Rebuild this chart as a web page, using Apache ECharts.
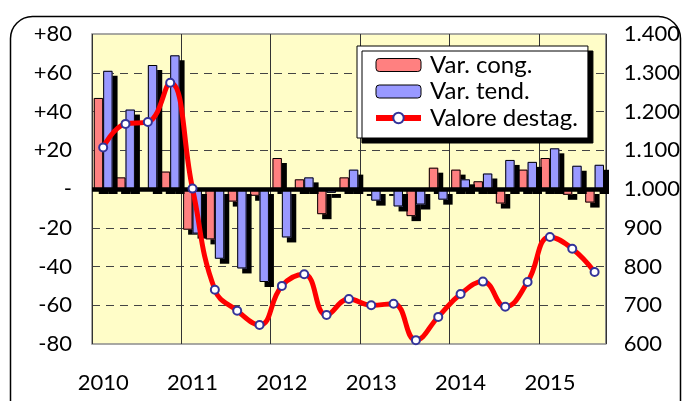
<!DOCTYPE html>
<html>
<head>
<meta charset="utf-8">
<script src="https://cdn.jsdelivr.net/npm/echarts@6/dist/echarts.min.js"></script>
<style>
  html, body { margin: 0; padding: 0; background: #fff; }
  #chart { width: 683px; height: 401px; }
</style>
</head>
<body>
<div id="chart"></div>
<script>
// trimestri 2010 I - 2015 III
const quarters = [
  '2010 I', '2010 II', '2010 III', '2010 IV',
  '2011 I', '2011 II', '2011 III', '2011 IV',
  '2012 I', '2012 II', '2012 III', '2012 IV',
  '2013 I', '2013 II', '2013 III', '2013 IV',
  '2014 I', '2014 II', '2014 III', '2014 IV',
  '2015 I', '2015 II', '2015 III'
];
// variazione congiunturale (%)
const varCong = [
  47, 6, 0, 9,
  -21, -26, -6.5, -3.5,
  16, 5, -13, 6,
  -1, -1, -14, 11,
  10, 4, -7.5, 10,
  16, -3, -7
];
// variazione tendenziale (%)
const varTend = [
  61, 41, 64, 69,
  -23, -36, -41, -48,
  -25, 6, -2, 10,
  -6, -9, -8, -5.5,
  5, 8, 15, 14,
  21, 12, 12.5
];
// valore destagionalizzato (asse destro)
const valoreDestag = [
  1107, 1168, 1173, 1274,
  1001, 740, 686, 649,
  750, 780, 675, 716,
  700, 704, 610, 670,
  729, 761, 696, 760,
  876, 846, 786
];

const FONT = 'Lato';

const myChart = echarts.init(document.getElementById('chart'));

// ombra nera sotto le barre (senza bordo, altrimenti l'ombra del bordo finisce dentro la barra)
const barShadow = {
  borderWidth: 0,
  shadowColor: '#000',
  shadowBlur: 0,
  shadowOffsetX: 5,
  shadowOffsetY: 5
};
// solo contorno, disegnato sopra su un secondo asse x nascosto
const barOutline = {
  color: 'rgba(0,0,0,0)',
  borderColor: '#000',
  borderWidth: 1
};

const option = {
  animation: false,
  graphic: [
    {
      type: 'rect',
      shape: { x: 10.5, y: 16.5, width: 670, height: 430, r: 22 },
      style: { fill: 'none', stroke: '#000', lineWidth: 1.5 },
      z: 0
    }
  ],
  grid: {
    left: 92,
    right: 76,
    top: 34,
    bottom: 57,
    show: true,
    backgroundColor: '#FFFDC8',
    borderColor: '#8c8c8c',
    borderWidth: 1.5
  },
  legend: {
    orient: 'vertical',
    left: 357,
    top: 46,
    padding: [7, 10, 8, 16],
    itemWidth: 45,
    itemHeight: 13,
    itemGap: 2.5,
    backgroundColor: '#fff',
    borderColor: '#000',
    borderWidth: 1,
    shadowColor: '#000',
    shadowBlur: 0,
    shadowOffsetX: 5,
    shadowOffsetY: 5,
    itemStyle: {
      borderColor: '#000',
      borderWidth: 1,
      shadowColor: 'rgba(0,0,0,0)',
      shadowOffsetX: 0,
      shadowOffsetY: 0
    },
    lineStyle: { width: 6 },
    textStyle: { fontFamily: FONT, fontSize: 24, lineHeight: 24, color: '#000', padding: [0, 0, 0, 4] },
    data: [
      'Var. cong.',
      'Var. tend.',
      { name: 'Valore destag.', itemStyle: { borderColor: '#333399', borderWidth: 2 } }
    ]
  },
  xAxis: [
    {
      type: 'category',
      data: quarters,
      boundaryGap: true,
      axisLine: { show: false },
      axisTick: { show: false },
      axisLabel: {
        interval: 3,
        margin: 28,
        fontFamily: FONT,
        fontSize: 22,
        color: '#000',
        formatter: v => v.slice(0, 4)
      },
      splitLine: {
        show: true,
        interval: 3,
        lineStyle: { color: '#333', width: 1 }
      }
    },
    {
      type: 'category',
      data: quarters,
      boundaryGap: true,
      show: false
    }
  ],
  yAxis: [
    {
      type: 'value',
      min: -80,
      max: 80,
      interval: 20,
      axisLine: { show: false },
      axisTick: { show: false },
      axisLabel: {
        margin: 20,
        fontFamily: FONT,
        fontSize: 22,
        color: '#000',
        padding: [8, 0, 0, 0],
        formatter: v => (v > 0 ? '+' + v : v === 0 ? '-' : String(v))
      },
      splitLine: {
        show: true,
        showMinLine: false,
        showMaxLine: false,
        lineStyle: { color: '#444', width: 1.2, type: [8, 6] }
      }
    },
    {
      type: 'value',
      min: 600,
      max: 1400,
      interval: 100,
      axisLine: { show: false },
      axisTick: { show: false },
      splitLine: { show: false },
      axisLabel: {
        margin: 18,
        fontFamily: FONT,
        fontSize: 22,
        color: '#000',
        padding: [8, 0, 0, 0],
        formatter: v => (v >= 1000 ? Math.floor(v / 1000) + '.' + String(v % 1000).padStart(3, '0') : String(v))
      }
    }
  ],
  series: [
    {
      name: 'Var. cong.',
      type: 'bar',
      data: varCong,
      barWidth: 9.4,
      barGap: '0%',
      itemStyle: Object.assign({ color: '#FF8080' }, barShadow)
    },
    {
      name: 'Var. tend.',
      type: 'bar',
      data: varTend,
      barWidth: 9.4,
      barGap: '0%',
      itemStyle: Object.assign({ color: '#9999FF' }, barShadow),
      markLine: {
        silent: true,
        symbol: 'none',
        z: 2.9,
        label: { show: false },
        lineStyle: { color: '#000', width: 4.5, type: 'solid' },
        data: [{ yAxis: 0 }]
      }
    },
    {
      name: 'cong-bordo',
      type: 'bar',
      xAxisIndex: 1,
      data: varCong,
      barWidth: 9.4,
      barGap: '0%',
      silent: true,
      itemStyle: barOutline
    },
    {
      name: 'tend-bordo',
      type: 'bar',
      xAxisIndex: 1,
      data: varTend,
      barWidth: 9.4,
      barGap: '0%',
      silent: true,
      itemStyle: barOutline
    },
    {
      name: 'Valore destag.',
      type: 'line',
      yAxisIndex: 1,
      data: valoreDestag,
      smooth: 0.45,
      symbol: 'circle',
      symbolSize: 8,
      z: 4,
      lineStyle: { color: '#FF0000', width: 5 },
      itemStyle: { color: '#fff', borderColor: '#333399', borderWidth: 2 }
    }
  ]
};

myChart.setOption(option);
</script>
</body>
</html>
